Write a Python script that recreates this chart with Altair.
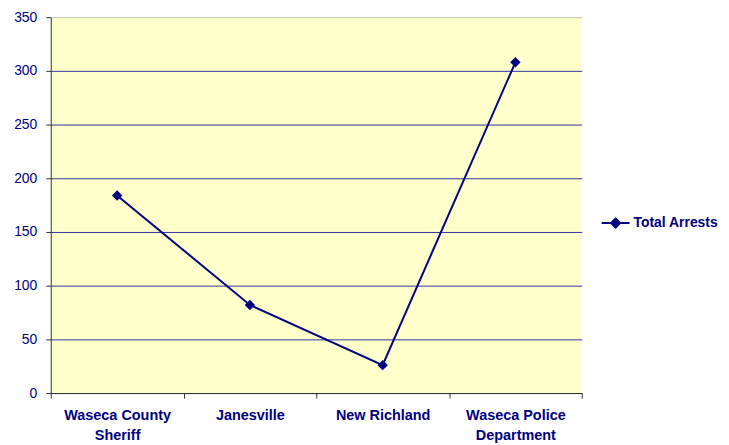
import altair as alt
import pandas as pd

categories = ["Waseca County Sheriff", "Janesville", "New Richland", "Waseca Police Department"]
arrests = [184, 82, 26, 308]
series_name = "Total Arrests"

df = pd.DataFrame({"agency": categories, "arrests": arrests, "series": [series_name] * len(categories)})

navy = "#000080"
font = "Liberation Sans"

label_expr = ("datum.label == 'Waseca County Sheriff' ? ['Waseca County', 'Sheriff'] : "
              "datum.label == 'Waseca Police Department' ? ['Waseca Police', 'Department'] : datum.label")

chart = alt.Chart(df).mark_line(
    strokeWidth=2,
    point=alt.OverlayMarkDef(shape="diamond", size=110, filled=True, opacity=1),
).encode(
    x=alt.X("agency:N", sort=categories, title=None,
            scale=alt.Scale(paddingInner=0, paddingOuter=0),
            axis=alt.Axis(labelAngle=0, labelExpr=label_expr, tickBand="extent",
                          labelFont=font, labelFontSize=14.5, labelFontWeight="bold",
                          labelColor=navy, labelPadding=11, labelLineHeight=20,
                          domainColor="#333333", tickColor="#333333", tickSize=5,
                          grid=False)),
    y=alt.Y("arrests:Q", title=None,
            scale=alt.Scale(domain=[0, 350], nice=False),
            axis=alt.Axis(values=[0, 50, 100, 150, 200, 250, 300, 350],
                          labelFont=font, labelFontSize=14, labelColor=navy,
                          labelPadding=9, domainColor="#333333", tickColor="#333333",
                          tickSize=5, grid=True,
                          gridColor={"condition": {"test": "datum.value === 350", "value": "#bfbfb0"},
                                     "value": "#3333a0"},
                          gridWidth=1)),
    color=alt.Color("series:N", scale=alt.Scale(range=[navy]),
                    legend=alt.Legend(title=None, orient="none", legendX=553, legendY=192,
                                      symbolType="M-1,0L1,0M0,-0.32L0.32,0L0,0.32L-0.32,0Z",
                                      symbolSize=784, symbolStrokeWidth=2,
                                      symbolFillColor=navy, symbolStrokeColor=navy,
                                      labelFont=font, labelFontSize=14, labelFontWeight="bold",
                                      labelColor=navy, labelOffset=3)),
).properties(
    width=534, height=378,
    autosize="none",
    padding={"left": 43, "top": 8, "right": 140, "bottom": 50},
    background="white",
).configure_view(
    fill="#FFFFCC", stroke=None,
)

chart.save("out.html", embed_options={"renderer": "svg", "actions": False})
